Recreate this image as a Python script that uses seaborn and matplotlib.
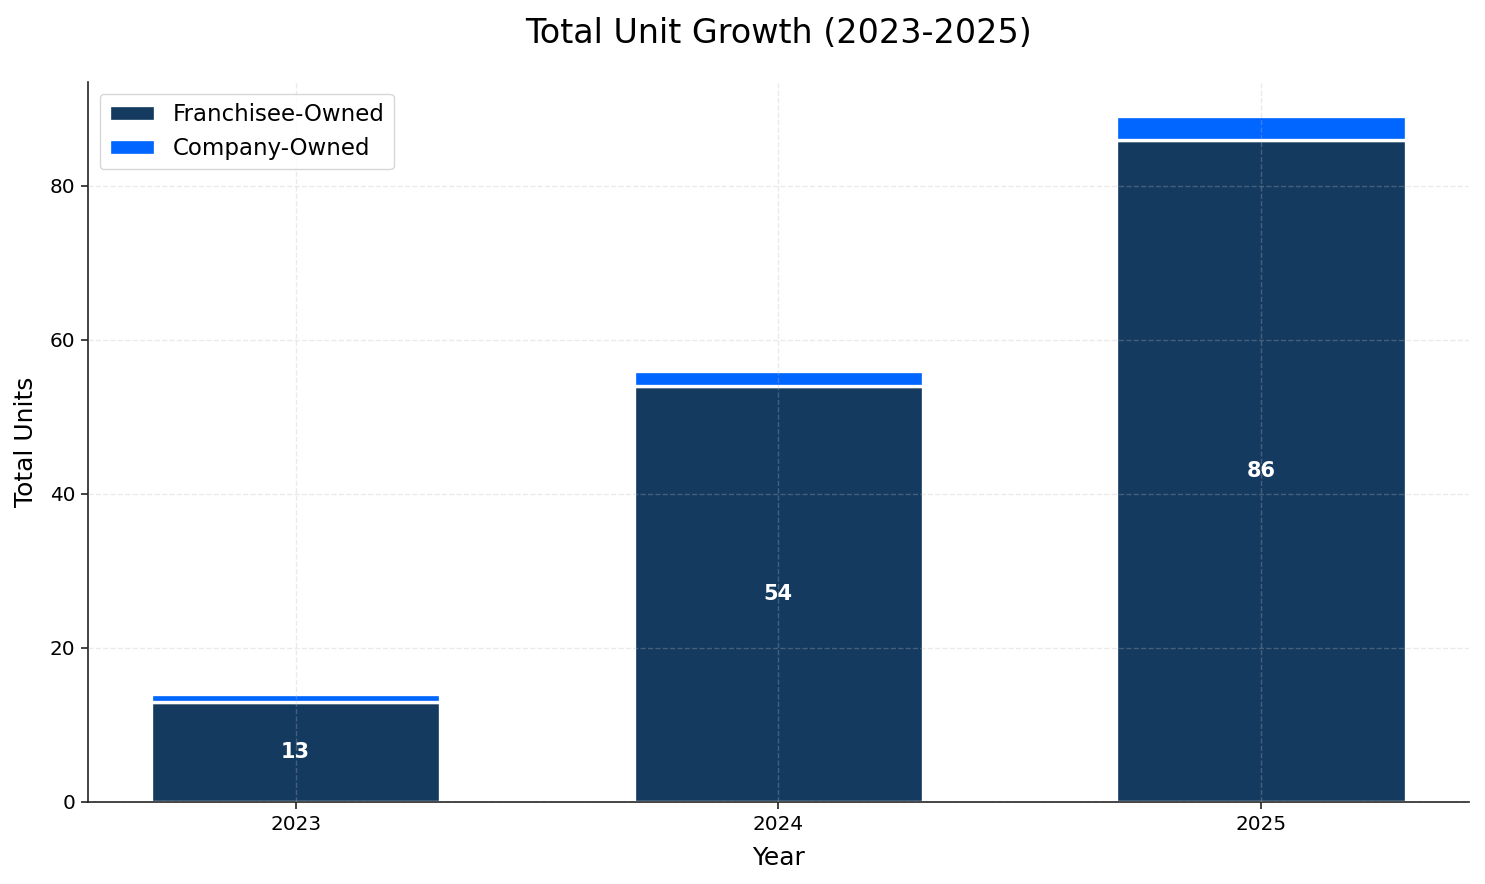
import pandas as pd
import matplotlib
matplotlib.use("Agg")
import matplotlib.pyplot as plt
import seaborn as sns

# datos
years = ["2023", "2024", "2025"]
franchisee = [13, 54, 86]
company = [1, 2, 3]

df = pd.DataFrame({"Year": years, "Franchisee": franchisee, "Company": company})

fig, ax = plt.subplots(figsize=(14.85, 8.84), dpi=100)

sns.barplot(data=df, x="Year", y="Franchisee", color="#143A60", width=0.6,
            edgecolor="white", linewidth=2.4, saturation=1, label="Franchisee-Owned", ax=ax)
sns.barplot(data=df, x="Year", y="Company", bottom=df["Franchisee"], color="#0066FF", width=0.6,
            edgecolor="white", linewidth=2.4, saturation=1, label="Company-Owned", ax=ax)

# etiquetas dentro de las barras
for i, v in enumerate(franchisee):
    ax.text(i, v / 2, str(v), ha="center", va="center", color="white",
            fontsize=15, fontweight="bold")

ax.set_xlim(-0.43, 2.43)
ax.set_axisbelow(False)
ax.grid(True, linestyle="--", alpha=0.3, color="#bbbbbb", linewidth=1)
ax.spines["top"].set_visible(False)
ax.spines["right"].set_visible(False)
for s in ["left", "bottom"]:
    ax.spines[s].set_color("#222222")
    ax.spines[s].set_linewidth(1.2)
ax.set_title("Total Unit Growth (2023-2025)", fontsize=24, pad=28)
ax.set_xlabel("Year", fontsize=18, labelpad=9)
ax.set_ylabel("Total Units", fontsize=18, labelpad=8)
ax.tick_params(labelsize=14.4, length=4.8, width=1.2, pad=4.5, color="#222222")
ax.legend(loc="upper left", fontsize=16.5)

plt.subplots_adjust(left=0.0593, right=0.989, top=0.907, bottom=0.0928)
plt.savefig("out.png")
